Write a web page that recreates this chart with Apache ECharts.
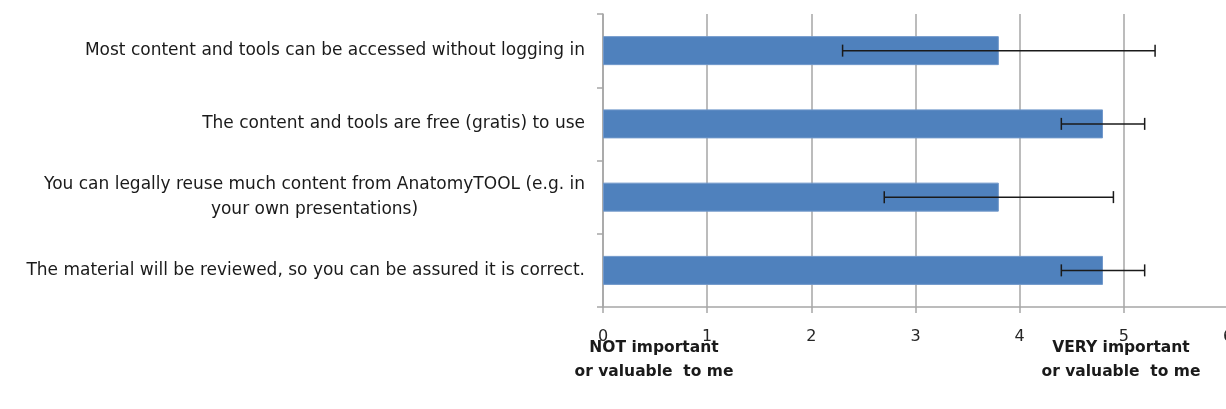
<!DOCTYPE html>
<html>
<head>
<meta charset="utf-8">
<script src="https://cdn.jsdelivr.net/npm/echarts@6/dist/echarts.min.js"></script>
<style>
  html, body { margin: 0; padding: 0; background: #fff; }
  #chart { width: 1226px; height: 409px; }
</style>
</head>
<body>
<div id="chart"></div>
<script>
// statements as shown on the y axis (top to bottom)
var categories = [
  'Most content and tools can be accessed without logging in',
  'The content and tools are free (gratis) to use',
  'You can legally reuse much content from AnatomyTOOL (e.g. in\nyour own presentations)',
  'The material will be reviewed, so you can be assured it is correct.'
]
// mean rating and error-bar half width
var means = [3.8, 4.8, 3.8, 4.8]
var errors = [1.5, 0.4, 1.1, 0.4]
var lowLabel = ['NOT important', 'or valuable  to me']
var highLabel = ['VERY important', 'or valuable  to me']

var FONT = '"DejaVu Sans", sans-serif'
var LABEL_SIZE = 17

// width of the longest line, so the wrapped label can be centred
function textWidth(s, size) {
  var ctx = document.createElement('canvas').getContext('2d')
  ctx.font = size + 'px ' + FONT
  return Math.ceil(ctx.measureText(s).width)
}

var errData = means.map(function (m, i) {
  return [i, m - errors[i], m + errors[i]]
})

var chart = echarts.init(document.getElementById('chart'))

var options = {
  animation: false,
  grid: {
    left: 603,
    right: -2,
    top: 14,
    bottom: 102,
    outerBoundsMode: 'none',
    containLabel: false
  },
  xAxis: {
    type: 'value',
    min: 0,
    max: 6,
    interval: 1,
    axisLine: { show: true, lineStyle: { color: '#A6A6A6', width: 1.5 } },
    axisTick: { show: true, length: 6, lineStyle: { color: '#A6A6A6', width: 1.5 } },
    axisLabel: { margin: 22, color: '#262626', fontSize: 16, fontFamily: FONT },
    splitLine: { show: true, lineStyle: { color: '#A6A6A6', width: 1.5 } }
  },
  yAxis: {
    type: 'category',
    inverse: true,
    data: categories,
    axisLine: { show: true, lineStyle: { color: '#A6A6A6', width: 1.5 } },
    axisTick: { show: true, length: 6, alignWithLabel: false, lineStyle: { color: '#A6A6A6', width: 1.5 } },
    axisLabel: {
      margin: 18,
      color: '#1a1a1a',
      fontSize: LABEL_SIZE,
      fontFamily: FONT,
      lineHeight: 25,
      formatter: function (v) {
        return v.indexOf('\n') >= 0 ? '{c|' + v + '}' : v
      },
      rich: {
        c: {
          width: textWidth(categories[2].split('\n')[0], LABEL_SIZE),
          align: 'center',
          fontSize: LABEL_SIZE,
          fontFamily: FONT,
          color: '#1a1a1a',
          lineHeight: 25
        }
      }
    }
  },
  graphic: [
    {
      type: 'text', x: 654, y: 336,
      style: { text: lowLabel.join('\n'), align: 'center', fontSize: 15.5, fontWeight: 'bold', fontFamily: FONT, fill: '#1a1a1a', lineHeight: 24 }
    },
    {
      type: 'text', x: 1121, y: 336,
      style: { text: highLabel.join('\n'), align: 'center', fontSize: 15.5, fontWeight: 'bold', fontFamily: FONT, fill: '#1a1a1a', lineHeight: 24 }
    }
  ],
  series: [
    {
      type: 'bar',
      data: means,
      barWidth: 29,
      itemStyle: { color: '#4F81BD', borderColor: '#7198CB', borderWidth: 1 }
    },
    {
      type: 'custom',
      data: errData,
      encode: { y: 0, x: [1, 2] },
      z: 5,
      renderItem: function (params, api) {
        var idx = api.value(0)
        var lo = api.coord([api.value(1), idx])
        var hi = api.coord([api.value(2), idx])
        var cap = 6
        var st = { stroke: '#1a1a1a', lineWidth: 1.5 }
        return {
          type: 'group',
          children: [
            { type: 'line', shape: { x1: lo[0], y1: lo[1], x2: hi[0], y2: hi[1] }, style: st },
            { type: 'line', shape: { x1: lo[0], y1: lo[1] - cap, x2: lo[0], y2: lo[1] + cap }, style: st },
            { type: 'line', shape: { x1: hi[0], y1: hi[1] - cap, x2: hi[0], y2: hi[1] + cap }, style: st }
          ]
        }
      }
    }
  ]
}

chart.setOption(options)
</script>
</body>
</html>
